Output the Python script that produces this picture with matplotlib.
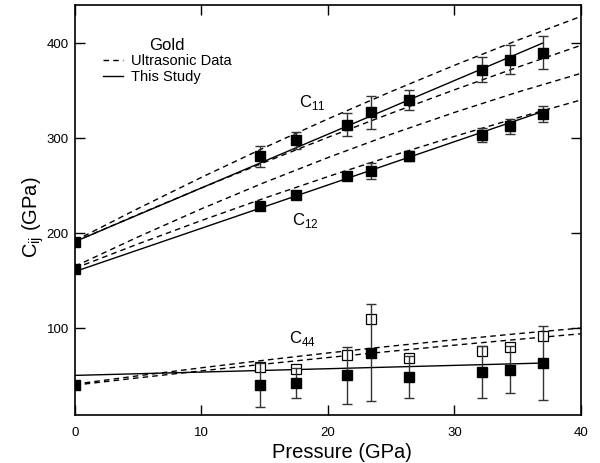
import matplotlib
matplotlib.use("Agg")
import matplotlib.pyplot as plt
from matplotlib.lines import Line2D

plt.rcParams['font.family'] = ['Liberation Sans', 'DejaVu Sans']
plt.rcParams['mathtext.fontset'] = 'custom'
plt.rcParams['mathtext.rm'] = 'Liberation Sans'

# data points (this study)
pressure = [0, 14.6, 17.5, 21.5, 23.4, 26.4, 32.2, 34.4, 37.0]
c11 = [190.5, 280.7, 297.6, 314, 327, 340, 372, 382.5, 390]
c11_err = [0, 11, 9, 12, 17, 10.5, 13.5, 15, 17]
c12 = [162, 228.4, 239.7, 260, 265.3, 281, 302.8, 312.3, 325]
c12_err = [0, 4, 4, 4, 8, 5.5, 7.5, 8, 8.5]
c44 = [40.4, 40.4, 42.1, 50.2, 74.1, 48.4, 53.7, 56.2, 63.2]
c44_err = [0, 23, 16, 30, 51, 22, 27, 25, 39]

# open squares for C44
p_open = [14.6, 17.5, 21.5, 23.4, 26.4, 32.2, 34.4, 37.0]
c44_open = [59, 57.3, 71.3, 110, 68.5, 75.8, 80, 91.3]

# fits from this study (straight lines)
fit_p = [0, 37]
c11_fit = [191, 400]
c12_fit = [159.5, 328]
c44_fit = [50.2, 63.2]

# ultrasonic data, two sets per constant
us_p = [0, 5, 10, 15, 20, 25, 30, 35, 40]
c11_us_a = [192, 225.9, 258.6, 290.0, 320.1, 348.9, 376.5, 402.9, 427.9]
c11_us_b = [191, 219.6, 247.5, 274.5, 300.7, 326.1, 350.7, 374.5, 397.5]
c12_us_a = [165, 196.0, 225.5, 253.3, 279.4, 304.0, 326.9, 348.3, 368.0]
c12_us_b = [163, 188.6, 213.2, 236.8, 259.4, 281.0, 301.7, 321.3, 340.0]
c44_us_a = [41, 49.8, 58.2, 66.2, 73.8, 81.0, 87.7, 94.1, 100.0]
c44_us_b = [40, 47.6, 55.0, 62.1, 69.0, 75.6, 82.0, 88.1, 94.0]

fig = plt.figure(figsize=(6, 4.63), dpi=100)
ax = fig.add_axes([0.125, 0.1026, 0.843, 0.8866])

dash = (0, (4, 3))
for ys in [c11_us_a, c11_us_b, c12_us_a, c12_us_b, c44_us_a, c44_us_b]:
    ax.plot(us_p, ys, color='black', lw=1.0, linestyle=dash)

for ys in [c11_fit, c12_fit, c44_fit]:
    ax.plot(fit_p, ys, color='black', lw=1.0)

ax.plot(p_open, c44_open, linestyle='none', marker='s', ms=6.5,
        mfc='white', mec='black', mew=0.9, zorder=4)

for ys, es in [(c11, c11_err), (c12, c12_err), (c44, c44_err)]:
    ax.errorbar(pressure, ys, yerr=es, fmt='s', color='black', ms=6.8,
                ecolor='#333333', elinewidth=1.0, capsize=3.8, capthick=1.0, zorder=5)

ax.text(18.8, 337, r'C$_{\mathregular{11}}$', fontsize=12, ha='center', va='center')
ax.text(18.2, 213, r'C$_{\mathregular{12}}$', fontsize=12, ha='center', va='center')
ax.text(18.0, 89, r'C$_{\mathregular{44}}$', fontsize=12, ha='center', va='center')

handles = [Line2D([], [], color='black', lw=1.0, linestyle=dash),
           Line2D([], [], color='black', lw=1.0)]
leg = ax.legend(handles, ['Ultrasonic Data', 'This Study'], title='Gold',
                loc='upper left', bbox_to_anchor=(0.055, 0.92), frameon=False,
                fontsize=10.5, title_fontsize=12, handlelength=1.4,
                handletextpad=0.55, labelspacing=0.1, borderpad=0, borderaxespad=0)

ax.set_xlim(0, 40)
ax.set_ylim(8, 440)
ax.set_xticks([0, 10, 20, 30, 40])
ax.set_yticks([100, 200, 300, 400])
ax.tick_params(direction='in', top=True, right=True, length=7, width=1.0,
               labelsize=9.5)
ax.tick_params(axis='x', pad=8)
ax.tick_params(axis='y', pad=4.5)
for s in ax.spines.values():
    s.set_linewidth(1.2)

ax.set_xlabel('Pressure (GPa)', fontsize=14.5)
ax.set_ylabel(r'$\mathregular{C_{ij}}$ (GPa)', fontsize=14.5)
ax.xaxis.set_label_coords(0.527, -0.066)
ax.yaxis.set_label_coords(-0.058, 0.484)

fig.savefig('out.png', dpi=100)
